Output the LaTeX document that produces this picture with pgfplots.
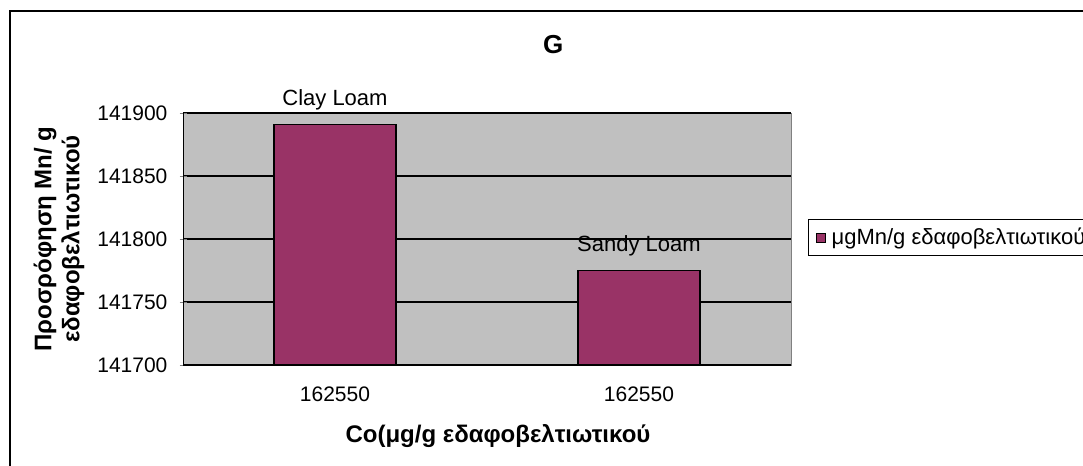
\documentclass[border=0pt]{standalone}
\usepackage{pgfplots}
\pgfplotsset{compat=1.18}
\usepackage{fontspec}
\setmainfont{Liberation Sans}
\definecolor{plum}{RGB}{153,51,102}
\definecolor{plotgray}{RGB}{192,192,192}
\begin{document}
\begin{tikzpicture}
\useasboundingbox (0,0) rectangle (541.5pt,233pt);
% chart frame
\draw[line width=1pt] (5pt,227.5pt) rectangle (570pt,-20pt);
\begin{axis}[
  at={(91.5pt,50.5pt)}, anchor=south west,
  scale only axis,
  width=304pt, height=126pt,
  font=\fontsize{10.5}{12}\selectfont,
  /pgf/number format/assume math mode=true,
  /pgf/number format/fixed,
  /pgf/number format/1000 sep={},
  scaled y ticks=false,
  xmin=0.5, xmax=2.5,
  ymin=141700, ymax=141900,
  ytick={141700,141750,141800,141850,141900},
  yticklabel style={xshift=-2.5pt},
  xtick={1,2}, xticklabels={162550,162550},
  xticklabel style={yshift=-4pt},
  x tick style={draw=none},
  minor xtick={0.5,1.5,2.5},
  tick align=outside,
  major tick length=3.5pt, minor tick length=3.5pt,
  axis lines=left,
  axis line style={-, black},
  ymajorgrids, grid style={black, line width=0.6pt},
  axis background/.style={fill=plotgray, draw=gray},
  ybar, bar width=61pt,
  nodes near coords,
  point meta=explicit symbolic,
  every node near coord/.append style={font=\fontsize{11}{13}\selectfont, inner sep=2pt, yshift=5pt},
  title={\bfseries G},
  title style={at={(axis description cs:0.609,1.225)}, anchor=center, font=\fontsize{13}{15}\selectfont},
  xlabel={\bfseries Co(μg/g εδαφοβελτιωτικού},
  every axis x label/.style={at={(axis description cs:0.518,-0.282)}, anchor=center, font=\fontsize{12}{14}\selectfont},
  ylabel={\bfseries Προσρόφηση Mn/ g\\\bfseries εδαφοβελτιωτικού},
  every axis y label/.style={at={(axis description cs:-0.204,0.5)}, rotate=90, anchor=center, align=center, font=\fontsize{12}{14}\selectfont},
  legend style={at={(axis description cs:1.028,0.579)}, anchor=north west,
    draw=black, line width=0.6pt, font=\fontsize{11}{13}\selectfont,
    inner xsep=3.5pt, inner ysep=2pt,
    /tikz/every even column/.style={column sep=0pt}},
  legend image code/.code={\draw[fill=plum, draw=black, line width=0.4pt] (0pt,-2.25pt) rectangle (4.5pt,2.25pt);
    \path (5.5pt,0pt);},
]
\addplot[fill=plum, draw=black, line width=0.6pt] coordinates {(1,141891)[Clay Loam] (2,141775)[Sandy Loam]};
\addlegendentry{μgMn/g εδαφοβελτιωτικού}
\end{axis}
\end{tikzpicture}
\end{document}
